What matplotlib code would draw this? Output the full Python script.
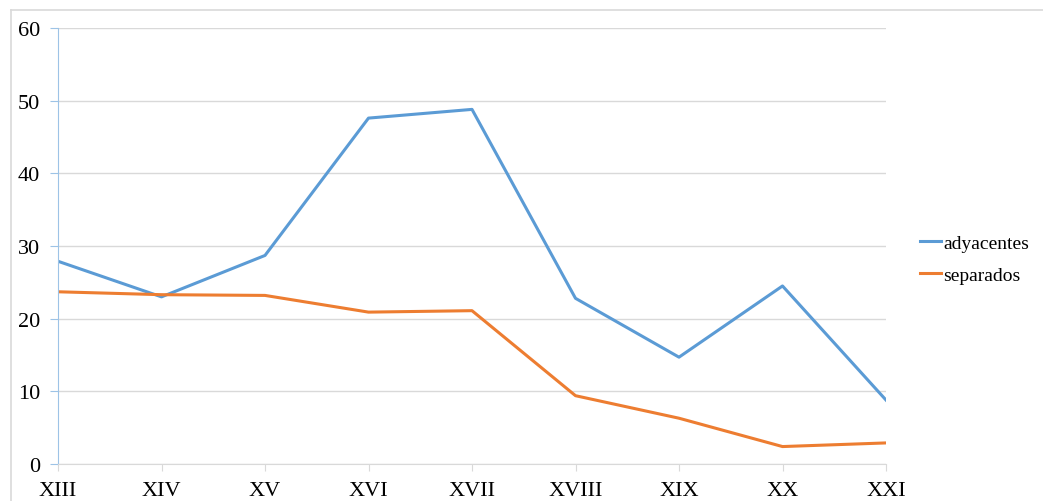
import matplotlib.pyplot as plt
from matplotlib.lines import Line2D

siglos = ["XIII", "XIV", "XV", "XVI", "XVII", "XVIII", "XIX", "XX", "XXI"]
adyacentes = [27.9, 23.0, 28.7, 47.6, 48.8, 22.8, 14.7, 24.5, 8.8]
separados = [23.7, 23.3, 23.2, 20.9, 21.1, 9.4, 6.3, 2.4, 2.9]

plt.rcParams['font.family'] = ['Liberation Serif', 'DejaVu Serif']

fig = plt.figure(figsize=(10.43, 5.02), dpi=100)
ax = fig.add_axes([58/1043, 37/502, (886-58)/1043, (465-29)/502])

x = range(len(siglos))
ax.plot(x, adyacentes, color='#5B9BD5', lw=2.2, label='adyacentes')
ax.plot(x, separados, color='#ED7D31', lw=2.2, label='separados')

ax.set_xlim(0, len(siglos) - 1)
ax.set_ylim(0, 60)
ax.set_yticks(range(0, 61, 10))
ax.set_xticks(list(x))
ax.set_xticklabels(siglos)
ax.grid(axis='y', color='#d9d9d9', lw=1)
ax.set_axisbelow(True)

for s in ['top', 'right']:
    ax.spines[s].set_visible(False)
ax.spines['left'].set_color('#9DC3E6')
ax.spines['bottom'].set_color('#d9d9d9')
ax.tick_params(axis='y', length=6, color='#9DC3E6', labelsize=16, pad=7)
ax.tick_params(axis='x', length=5, color='#d9d9d9', labelsize=16, pad=7)

ax.legend(loc='center left', bbox_to_anchor=(1.02, 0.47), frameon=False,
          fontsize=14, handlelength=1.1, handletextpad=0.08, labelspacing=0.75)

# marco del grafico
fig.add_artist(Line2D([11/1043, 11/1043], [0, 1 - 11/502], color='#d9d9d9', lw=1.2))
fig.add_artist(Line2D([11/1043, 1], [1 - 11/502, 1 - 11/502], color='#d9d9d9', lw=1.2))

fig.savefig('out.png', dpi=100)
